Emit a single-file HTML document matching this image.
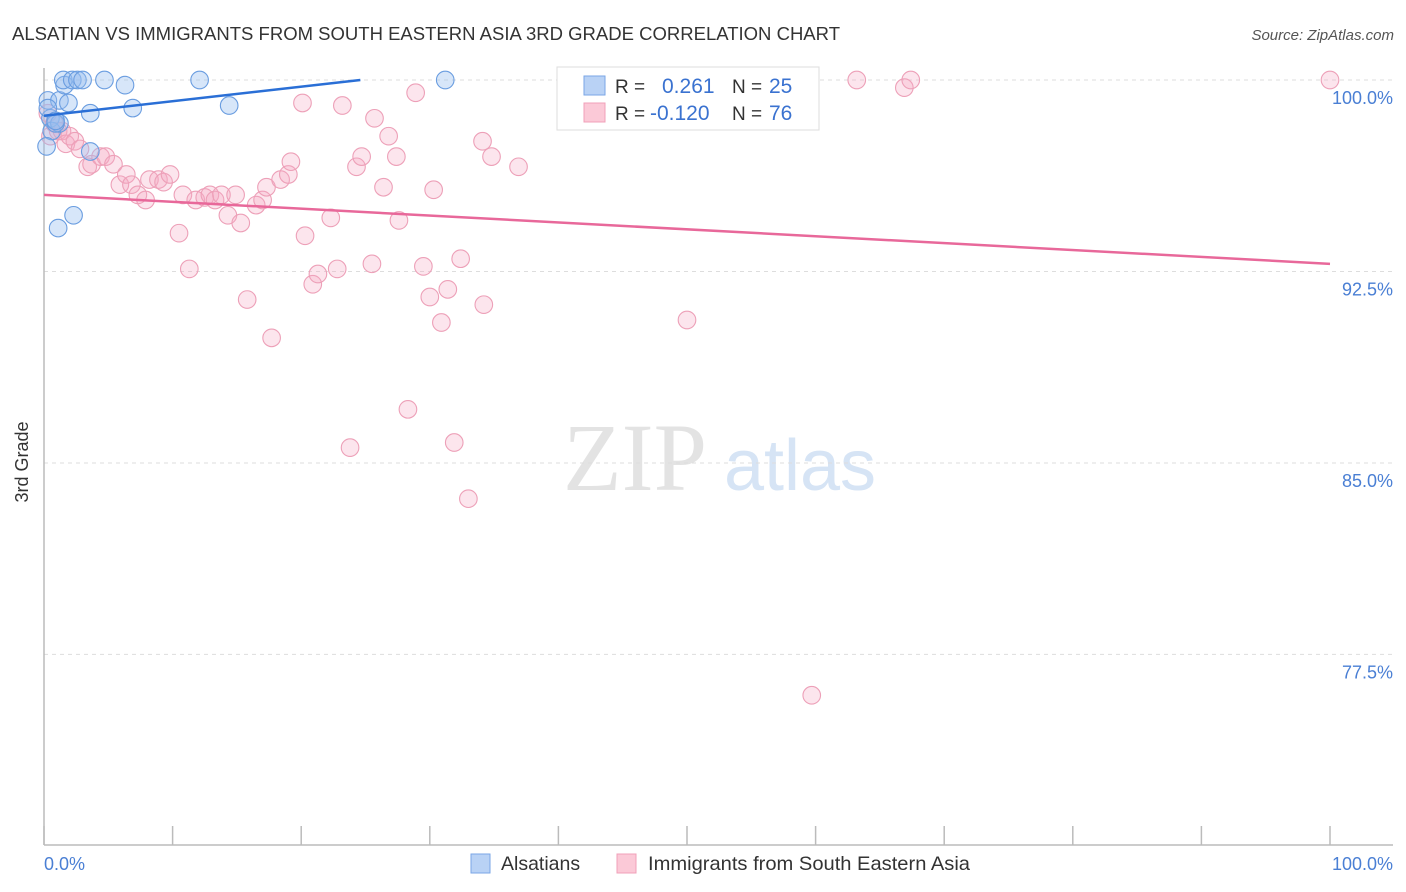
<!DOCTYPE html>
<html><head><meta charset="utf-8"><style>
body{margin:0;background:#fff;font-family:"Liberation Sans",sans-serif;}
svg{display:block}
</style></head><body>
<svg width="1406" height="892" viewBox="0 0 1406 892" id="chart">
<text x="12" y="40" font-size="18" fill="#333" textLength="828" lengthAdjust="spacingAndGlyphs">ALSATIAN VS IMMIGRANTS FROM SOUTH EASTERN ASIA 3RD GRADE CORRELATION CHART</text>
<text x="1394" y="40" font-size="15" fill="#555" font-style="italic" text-anchor="end">Source: ZipAtlas.com</text>
<g>
<text x="635" y="490" font-size="96" font-family="Liberation Serif,serif" fill="#e3e3e3" text-anchor="middle">ZIP</text>
<text x="800" y="490" font-size="72" fill="#d6e4f5" text-anchor="middle">atlas</text>
</g>
<g id="grid"></g>
<line x1="44" y1="68" x2="44" y2="845" stroke="#bbb" stroke-width="1.5"/>
<line x1="44" y1="845" x2="1393" y2="845" stroke="#bbb" stroke-width="1.5"/>
<g id="xticks"></g>
<text x="22" y="456" font-size="18" fill="#333" transform="rotate(-90 28 456)" text-anchor="middle">3rd Grade</text>
<text x="44" y="870" font-size="18" fill="#4a7fd4">0.0%</text>
<text x="1393" y="870" font-size="18" fill="#4a7fd4" text-anchor="end">100.0%</text>
<g id="pts"></g>
<g id="trends"></g>
<g>
<rect x="557" y="67" width="262" height="63" fill="#fff" stroke="#ddd"/>
<rect x="584" y="76" width="21" height="19" fill="#b9d2f5" stroke="#7aa6e6"/>
<rect x="584" y="103" width="21" height="19" fill="#fbc9d7" stroke="#f0a0b8"/>
<text x="615" y="93" font-size="19" fill="#333">R =</text>
<text x="662" y="93" font-size="21" fill="#3a72d0">0.261</text>
<text x="732" y="93" font-size="19" fill="#333">N =</text>
<text x="769" y="93" font-size="21" fill="#3a72d0">25</text>
<text x="615" y="120" font-size="19" fill="#333">R =</text>
<text x="650" y="120" font-size="21" fill="#3a72d0">-0.120</text>
<text x="732" y="120" font-size="19" fill="#333">N =</text>
<text x="769" y="120" font-size="21" fill="#3a72d0">76</text>
</g>
<g>
<rect x="471" y="854" width="19" height="19" fill="#b9d2f5" stroke="#7aa6e6"/>
<text x="501" y="870" font-size="19.5" fill="#333">Alsatians</text>
<rect x="617" y="854" width="19" height="19" fill="#fbc9d7" stroke="#f0a0b8"/>
<text x="648" y="870" font-size="19.5" fill="#333" textLength="322" lengthAdjust="spacingAndGlyphs">Immigrants from South Eastern Asia</text>
</g>
</svg>
<script>
const yTicks=[100,92.5,85,77.5];
const yTickLabels=["100.0%","92.5%","85.0%","77.5%"];
const xTicks=[0,10,20,30,40,50,60,70,80,90,100];
const blueX=[0.3,0.5,0.6,0.2,1.2,1.6,1.9,1.5,2.2,2.6,3.0,4.7,6.3,3.6,6.9,12.1,14.4,31.2,2.3,1.1,1.2,0.9,3.6,0.3,0.9];
const blueY=[99.2,98.5,98.0,97.4,99.2,99.8,99.1,100,100,100,100,100,99.8,98.7,98.9,100,99.0,100,94.7,94.2,98.3,98.3,97.2,98.9,98.4];
const pinkX=[0.3,0.5,0.8,1.1,1.4,1.7,2.0,2.4,2.8,3.4,3.7,4.4,4.8,5.4,5.9,6.4,6.8,7.3,7.9,8.2,8.9,9.3,9.8,10.5,10.8,11.3,11.8,12.5,12.9,13.3,13.8,14.3,14.9,15.3,15.8,16.5,17.0,17.3,17.7,18.4,19.0,19.2,20.1,20.3,20.9,21.3,22.3,22.8,23.2,23.8,24.3,24.7,25.5,25.7,26.4,26.8,27.4,27.6,28.3,28.9,29.5,30.0,30.3,30.9,31.4,31.9,32.4,33.0,34.1,34.2,34.8,36.9,50.0,59.7,63.2,66.9,67.4,100];
const pinkY=[98.7,97.8,98.3,98.0,98.0,97.5,97.8,97.6,97.3,96.6,96.7,97.0,97.0,96.7,95.9,96.3,95.9,95.5,95.3,96.1,96.1,96.0,96.3,94.0,95.5,92.6,95.3,95.4,95.5,95.3,95.5,94.7,95.5,94.4,91.4,95.1,95.3,95.8,89.9,96.1,96.3,96.8,99.1,93.9,92.0,92.4,94.6,92.6,99.0,85.6,96.6,97.0,92.8,98.5,95.8,97.8,97.0,94.5,87.1,99.5,92.7,91.5,95.7,90.5,91.8,85.8,93.0,83.6,97.6,91.2,97.0,96.6,90.6,75.9,100,99.7,100,100];
const blueTrend=[0,98.6,24.6,100];
const pinkTrend=[0,95.5,100,92.8];
const NS="http://www.w3.org/2000/svg";
const X=v=>44+v*12.86;
const Y=v=>80+(100-v)*25.53;
function mk(t,a,p){const e=document.createElementNS(NS,t);for(const k in a)e.setAttribute(k,a[k]);p.appendChild(e);return e;}
const grid=document.getElementById('grid');
yTicks.forEach((t,i)=>{
 const l=mk('line',{x1:44,x2:1393,y1:Y(t),y2:Y(t),stroke:'#ddd','stroke-dasharray':'4,4'},grid);
 
 
 const tx=mk('text',{x:1393,y:Y(t)+24,'font-size':18,fill:'#4a7fd4','text-anchor':'end'},grid);
 tx.textContent=yTickLabels[i];
 
 
});
const xt=document.getElementById('xticks');
xTicks.forEach(t=>{
 const l=mk('line',{x1:X(t),x2:X(t),y1:826,y2:845,stroke:'#bbb','stroke-width':1.5},xt);
 
 
});
const pts=document.getElementById('pts');
pinkX.forEach((x,i)=>{
 const c=mk('circle',{cx:X(x),cy:Y(pinkY[i]),r:8.8,fill:'rgba(246,170,194,0.3)',stroke:'#eda0b8','stroke-width':1.1},pts);
 
 
});
blueX.forEach((x,i)=>{
 const c=mk('circle',{cx:X(x),cy:Y(blueY[i]),r:8.8,fill:'rgba(150,190,240,0.38)',stroke:'#6a9de0','stroke-width':1.1},pts);
 
 
});
const tr=document.getElementById('trends');
const b=mk('line',{x1:X(blueTrend[0]),y1:Y(blueTrend[1]),x2:X(blueTrend[2]),y2:Y(blueTrend[3]),stroke:'#2a6fd6','stroke-width':2.5},tr);


const p=mk('line',{x1:X(pinkTrend[0]),y1:Y(pinkTrend[1]),x2:X(pinkTrend[2]),y2:Y(pinkTrend[3]),stroke:'#e8689a','stroke-width':2.5},tr);


</script>
</body></html>
